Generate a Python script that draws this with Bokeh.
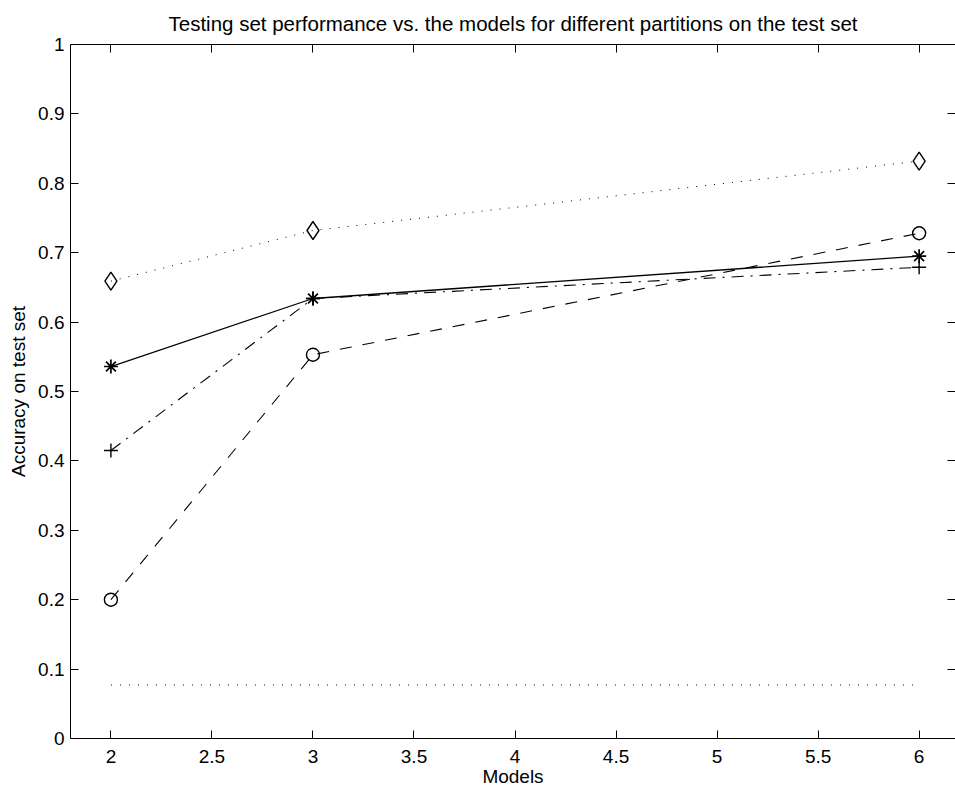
from bokeh.plotting import figure
from bokeh.models import LinearAxis, FixedTicker, Range1d
from bokeh.embed import file_html
from bokeh.resources import INLINE

# data
models_main = [2, 3, 6]
acc_diamond = [0.659, 0.732, 0.832]
acc_star = [0.536, 0.634, 0.695]
acc_plus = [0.415, 0.634, 0.679]
acc_circle = [0.200, 0.553, 0.728]
baseline_x = [2, 3, 6]
baseline_y = [0.077, 0.077, 0.077]

x_ticks = [2, 2.5, 3, 3.5, 4, 4.5, 5, 5.5, 6]
x_tick_labels = ["2", "2.5", "3", "3.5", "4", "4.5", "5", "5.5", "6"]
y_ticks = [0, 0.1, 0.2, 0.3, 0.4, 0.5, 0.6, 0.7, 0.8, 0.9, 1]
y_tick_labels = ["0", "0.1", "0.2", "0.3", "0.4", "0.5", "0.6", "0.7", "0.8", "0.9", "1"]

FONT = "Liberation Sans"
FS = "19px"

p = figure(width=955, height=789, output_backend="svg", toolbar_location=None,
           x_range=Range1d(1.8, 6.18), y_range=Range1d(0, 1),
           title="Testing set performance vs. the models for different partitions on the test set",
           min_border_left=70, min_border_right=0, min_border_top=44, min_border_bottom=50,
           background_fill_color="white", border_fill_color="white")
p.outline_line_color = None
p.grid.visible = False
p.title.align = "center"
p.title.text_font = FONT
p.title.text_font_size = "20.5px"
p.title.text_font_style = "normal"
p.title.text_color = "black"
p.title.standoff = 19

for ax in [p.xaxis[0], p.yaxis[0]]:
    ax.axis_line_color = "black"
    ax.major_tick_in = 8
    ax.major_tick_out = 0
    ax.minor_tick_line_color = None
    ax.major_label_text_font = FONT
    ax.major_label_text_font_size = FS
    ax.major_label_text_color = "black"
    ax.axis_label_text_font = FONT
    ax.axis_label_text_font_size = FS
    ax.axis_label_text_font_style = "normal"
    ax.axis_label_text_color = "black"

p.xaxis.ticker = FixedTicker(ticks=x_ticks)
p.xaxis.major_label_overrides = dict(zip(x_ticks, x_tick_labels))
p.yaxis.ticker = FixedTicker(ticks=y_ticks)
p.yaxis.major_label_overrides = dict(zip(y_ticks, y_tick_labels))
p.xaxis.axis_label = "Models"
p.yaxis.axis_label = "Accuracy on test set"
p.xaxis.major_label_standoff = 11
p.xaxis.axis_label_standoff = 0
p.xaxis.major_label_text_line_height = 0.8
p.xaxis.axis_label_text_line_height = 0.8
p.yaxis.major_label_standoff = 6
p.yaxis.axis_label_standoff = 6

top = LinearAxis(ticker=FixedTicker(ticks=x_ticks), major_tick_in=8, major_tick_out=0,
                 minor_tick_line_color=None, major_label_standoff=0,
                 major_label_overrides={t: "" for t in x_ticks},
                 axis_line_color="black")
right = LinearAxis(ticker=FixedTicker(ticks=y_ticks), major_tick_in=8, major_tick_out=0,
                   minor_tick_line_color=None, major_label_standoff=0,
                   major_label_overrides={t: "" for t in y_ticks},
                   axis_line_color=None)
p.add_layout(top, "above")
p.add_layout(right, "right")

# lines
p.line(models_main, acc_diamond, line_color="black", line_width=1, line_dash="1 8")
p.scatter(models_main, acc_diamond, marker="diamond", size=18, fill_color=None,
          line_color="black", line_width=1.4)

p.line(models_main, acc_star, line_color="black", line_width=1.3)
p.scatter(models_main, acc_star, marker="asterisk", size=14, line_color="black", line_width=1.7)

p.line(models_main, acc_plus, line_color="black", line_width=1.1, line_dash="12 7 2 7")
p.scatter(models_main, acc_plus, marker="cross", size=14, line_color="black", line_width=1.4)

p.line(models_main, acc_circle, line_color="black", line_width=1.1, line_dash="12 11")
p.scatter(models_main, acc_circle, marker="circle", size=13, fill_color=None,
          line_color="black", line_width=1.4)

p.line(baseline_x, baseline_y, line_color="black", line_width=1, line_dash="1 8")

open("out.html", "w").write(file_html(p, INLINE))
